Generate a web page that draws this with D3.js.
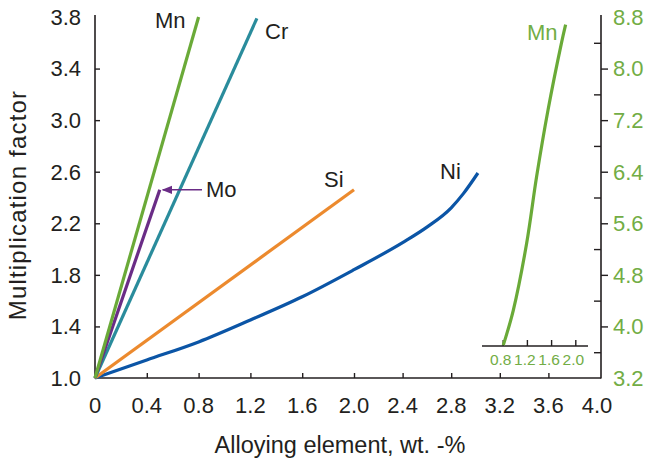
<!DOCTYPE html>
<html><head><meta charset="utf-8">
<script src="https://cdn.jsdelivr.net/npm/d3@7"></script>
<style>
html,body{margin:0;padding:0;background:#fff;}
text{font-family:"Liberation Sans",Arial,sans-serif;}
</style></head>
<body><svg id="c" width="648" height="464"></svg>
<script>
// ---- data ----
const xTicks = [0,0.4,0.8,1.2,1.6,2.0,2.4,2.8,3.2,3.6,4.0];
const xTickLabels = ["0","0.4","0.8","1.2","1.6","2.0","2.4","2.8","3.2","3.6","4.0"];
const yTicks = [1.0,1.4,1.8,2.2,2.6,3.0,3.4,3.8];
const yRightTicks = [3.2,4.0,4.8,5.6,6.4,7.2,8.0,8.8];
const yRightMinor = [3.6,4.4,5.2,6.0,6.8,7.6,8.4];
const insetTicks = [0.8,1.2,1.6,2.0];

const mnX = [0, 0.80];        const mnY = [1.0, 3.80];
const crX = [0, 1.25];        const crY = [1.0, 3.79];
const moX = [0, 0.50];        const moY = [1.0, 2.46];
const siX = [0, 2.0];         const siY = [1.0, 2.46];
const niX = [0, 0.4, 0.8, 1.2, 1.6, 2.0, 2.4, 2.6, 2.8, 2.9, 3.02];
const niY = [1.0, 1.14, 1.28, 1.45, 1.63, 1.84, 2.05, 2.17, 2.32, 2.43, 2.59];
const mnInsetX = [0.81, 0.975, 1.196, 1.36, 1.55, 1.77, 1.84];
const mnInsetY = [3.71, 4.25, 5.29, 6.32, 7.36, 8.39, 8.68];

const colors = {Mn:"#6aaa38", Cr:"#2a8c9c", Mo:"#6a2c86", Si:"#ec8a2e", Ni:"#0b55a6"};
const ink = "#231f20";
const green = "#72ad45";

const svg = d3.select("#c");
// the reference's x grid is slightly uneven: two linear pieces
const x = d3.scaleLinear().domain([0,2,4]).range([95,354,597]);
const y = d3.scaleLinear().domain([1.0,3.8]).range([378,17]);
const yR = d3.scaleLinear().domain([3.2,8.8]).range([378,17]);
const xI = d3.scaleLinear().domain([0.8,2.0]).range([502.7,575.3]);

const FS = 22;
// frame
svg.append("line").attr("x1",95).attr("x2",95).attr("y1",15).attr("y2",378.5).attr("stroke",ink).attr("stroke-width",1.6);
svg.append("line").attr("x1",95).attr("x2",601).attr("y1",378).attr("y2",378).attr("stroke",ink).attr("stroke-width",1.6);
svg.append("line").attr("x1",601).attr("x2",601).attr("y1",15).attr("y2",378.5).attr("stroke",ink).attr("stroke-width",1.6);

// left axis
const gl = svg.append("g").attr("transform","translate(95,0)")
  .call(d3.axisRight(y).tickValues(yTicks.slice(1,-1)).tickSize(5).tickFormat(""));
gl.select(".domain").remove();
gl.selectAll("line").attr("stroke",ink).attr("stroke-width",1.4);
svg.append("g").selectAll("text").data(yTicks).join("text")
  .attr("x",81).attr("y",d=>y(d)).attr("dy","0.36em").attr("text-anchor","end")
  .attr("font-size",FS).attr("fill",ink).text(d=>d.toFixed(1));

// bottom axis
const gb = svg.append("g").attr("transform","translate(0,378)")
  .call(d3.axisTop(x).tickValues(xTicks.slice(1,-1)).tickSize(5).tickFormat(""));
gb.select(".domain").remove();
gb.selectAll("line").attr("stroke",ink).attr("stroke-width",1.4);
svg.append("g").selectAll("text").data(xTicks).join("text")
  .attr("x",d=>x(d)).attr("y",413).attr("text-anchor","middle")
  .attr("font-size",FS).attr("fill",ink).text((d,i)=>xTickLabels[i]);

// right axis
const gr = svg.append("g").attr("transform","translate(601,0)")
  .call(d3.axisRight(yR).tickValues(yRightTicks.slice(1,-1)).tickSize(7).tickFormat(""));
gr.select(".domain").remove();
gr.selectAll("line").attr("stroke",ink).attr("stroke-width",1.4);
const grm = svg.append("g").attr("transform","translate(601,0)")
  .call(d3.axisLeft(yR).tickValues(yRightMinor).tickSize(7).tickFormat(""));
grm.select(".domain").remove();
grm.selectAll("line").attr("stroke",ink).attr("stroke-width",1.4);
svg.append("g").selectAll("text").data(yRightTicks).join("text")
  .attr("x",613).attr("y",d=>yR(d)).attr("dy","0.36em").attr("text-anchor","start")
  .attr("font-size",FS).attr("fill",green).text(d=>d.toFixed(1));

// inset axis
svg.append("line").attr("x1",482).attr("x2",588).attr("y1",346).attr("y2",346).attr("stroke",ink).attr("stroke-width",1.4);
const gi = svg.append("g").attr("transform","translate(0,346)")
  .call(d3.axisTop(xI).tickValues(insetTicks).tickSize(6).tickFormat(""));
gi.select(".domain").remove();
gi.selectAll("line").attr("stroke",ink).attr("stroke-width",1.4);
svg.append("g").selectAll("text").data(insetTicks).join("text")
  .attr("x",d=>xI(d)-2).attr("y",365).attr("text-anchor","middle")
  .attr("font-size",15.5).attr("fill",green).text(d=>d.toFixed(1));

// series
function series(xs, ys, sx, sy, color, curve){
  const pts = xs.map((v,i)=>[v, ys[i]]);
  svg.append("path").datum(pts)
    .attr("d", d3.line().x(d=>sx(d[0])).y(d=>sy(d[1])).curve(curve||d3.curveLinear))
    .attr("fill","none").attr("stroke",color).attr("stroke-width",3.2).attr("stroke-linecap","butt");
}
series(niX, niY, x, y, colors.Ni, d3.curveMonotoneX);
series(siX, siY, x, y, colors.Si);
series(crX, crY, x, y, colors.Cr);
series(moX, moY, x, y, colors.Mo);
series(mnX, mnY, x, y, colors.Mn);
series(mnInsetX, mnInsetY, xI, yR, colors.Mn, d3.curveCatmullRom);

// Mo arrow
svg.append("defs").append("marker").attr("id","ah").attr("viewBox","0 0 10 10")
  .attr("refX",9).attr("refY",5).attr("markerWidth",7).attr("markerHeight",7).attr("orient","auto")
  .append("path").attr("d","M0,1 L10,5 L0,9 Z").attr("fill",colors.Mo);
svg.append("line").attr("x1",202).attr("y1",y(2.46)).attr("x2",x(0.5)+3).attr("y2",y(2.46))
  .attr("stroke",colors.Mo).attr("stroke-width",1.5).attr("marker-end","url(#ah)");

// labels
const lbl = (t,xx,yy,c,fs,anchor)=>svg.append("text").attr("x",xx).attr("y",yy).attr("font-size",fs||FS)
  .attr("fill",c||ink).attr("text-anchor",anchor||"start").text(t);
lbl("Mn",155,28);
lbl("Cr",265,39);
lbl("Mo",206,197);
lbl("Si",324,187);
lbl("Ni",440,179);
lbl("Mn",527,40,green);

svg.append("text").attr("x",340).attr("y",453).attr("text-anchor","middle").attr("font-size",23.5).attr("fill",ink)
  .text("Alloying element, wt. -%");
svg.append("text").attr("transform","translate(26,205) rotate(-90)").attr("text-anchor","middle")
  .attr("font-size",24).attr("letter-spacing",1.2).attr("fill",ink).text("Multiplication factor");
</script></body></html>
